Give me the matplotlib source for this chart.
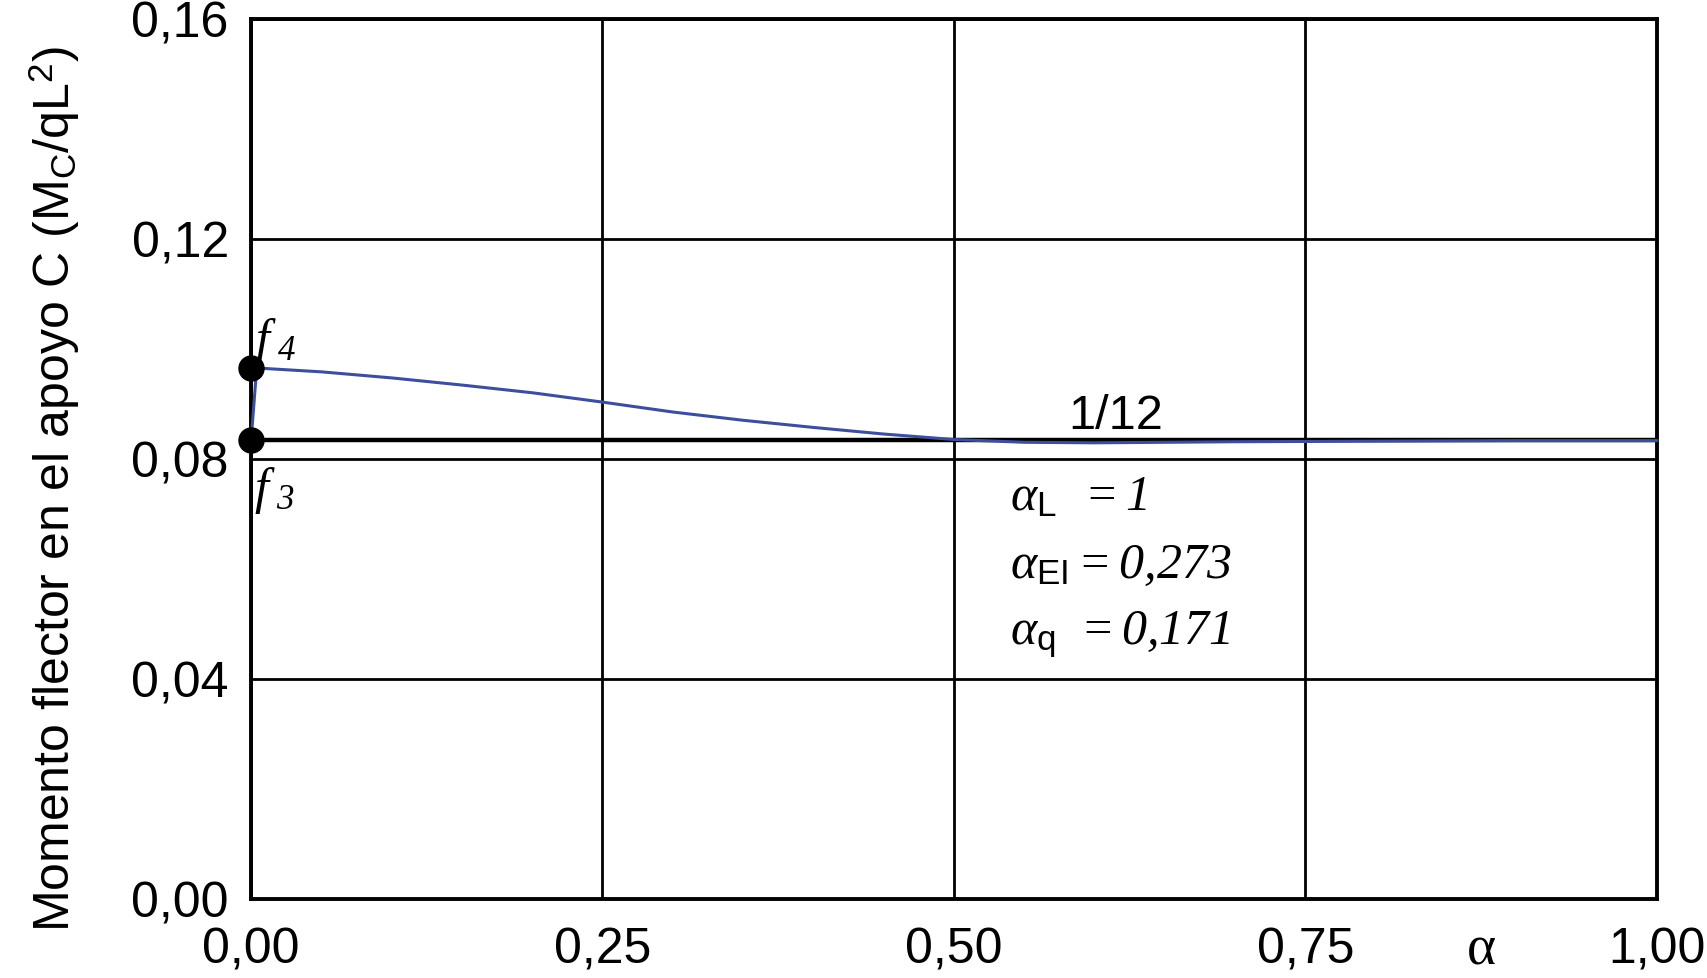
import numpy as np
from matplotlib import pyplot as plt

plt.rcParams['font.family'] = ['Liberation Sans', 'DejaVu Sans']
plt.rcParams['mathtext.fontset'] = 'custom'
plt.rcParams['mathtext.rm'] = 'Liberation Serif:italic'
plt.rcParams['mathtext.it'] = 'Liberation Serif:italic'
plt.rcParams['mathtext.sf'] = 'Liberation Sans'

# Curva del momento en el apoyo C frente a alpha
alpha = [0.0, 0.004, 0.05, 0.10, 0.15, 0.20, 0.25, 0.30, 0.35, 0.40, 0.45,
         0.50, 0.55, 0.60, 0.70, 0.80, 0.90, 1.00]
mc = [0.0833, 0.0965, 0.0958, 0.0947, 0.0934, 0.0920, 0.0903, 0.0885, 0.0870,
      0.0857, 0.0845, 0.0835, 0.0830, 0.0829, 0.0831, 0.0832, 0.0833, 0.0833]
f_points = [(0.0, 0.0965), (0.0, 1 / 12)]
ref_value = 1 / 12

xticks = [0.0, 0.25, 0.50, 0.75, 1.00]
yticks = [0.00, 0.04, 0.08, 0.12, 0.16]
params = [r'$\alpha_{\mathsf{L}}\;\;=1$',
          r'$\alpha_{\mathsf{EI}}=0{,}273$',
          r'$\alpha_{\mathsf{q}}\;\,=0{,}171$']

fig = plt.figure(figsize=(17.08, 9.79), dpi=100)
ax = fig.add_axes([0.147, 0.0807, 0.823, 0.8993])

for x in xticks:
    ax.axvline(x, color='black', lw=2.0, zorder=1)
for y in yticks:
    ax.axhline(y, color='black', lw=2.0, zorder=1)

ax.axhline(ref_value, color='black', lw=3.2, zorder=2)
ax.plot(alpha, mc, color='#3d4f9c', lw=2.2, zorder=3, clip_on=False)
for x, y in f_points:
    ax.plot(x, y, 'o', color='black', ms=18, zorder=4, clip_on=False)

ax.text(0.003, 0.1015, r'$f_{\ 4}$', fontsize=36, ha='left', va='center')
ax.text(0.002, 0.0745, r'$f_{\ 3}$', fontsize=36, ha='left', va='center')
ax.text(0.615, 0.0878, '1/12', fontsize=35, ha='center', va='center')
for i, p in enumerate(params):
    ax.text(0.54, 0.0733 - i * 0.0125, p, fontsize=36, ha='left', va='center')

ax.set_xlim(0, 1)
ax.set_ylim(0, 0.16)
ax.set_xticks(xticks)
ax.set_xticklabels([f'{v:.2f}'.replace('.', ',') for v in xticks])
ax.set_yticks(yticks)
ax.set_yticklabels([f'{v:.2f}'.replace('.', ',') for v in yticks])
ax.tick_params(labelsize=36, length=0)
ax.tick_params(axis='x', pad=20)
ax.tick_params(axis='y', pad=16)
for s in ax.spines.values():
    s.set_linewidth(2.8)

ax.text(0.875, -0.0092, 'α', fontsize=40, ha='center', va='center',
        family='Liberation Serif')
fig.text(0.032, 0.50, r'Momento flector en el apoyo C (M$_{\mathsf{C}}$/qL$^{\mathsf{2}}$)',
         rotation=90, fontsize=36, ha='center', va='center')

fig.savefig('out.png', dpi=100)
